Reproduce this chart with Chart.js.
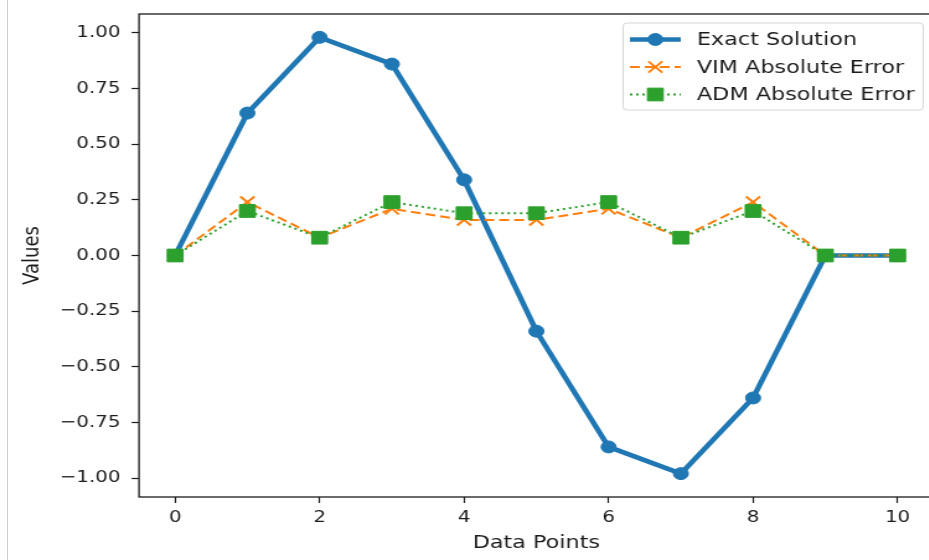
<!DOCTYPE html>
<html>
<head>
<meta charset="utf-8">
<script src="https://cdn.jsdelivr.net/npm/chart.js@4.4.0/dist/chart.umd.min.js"></script>
<style>
  html, body { margin: 0; padding: 0; background: #fff; overflow: hidden; }
  #frame { position: relative; width: 929px; height: 560px; overflow: hidden; }
  /* the picture is a matplotlib figure stretched sideways, so stretch the canvas the same way */
  #wrap { position: absolute; left: 0; top: 0; width: 763px; height: 560px; transform: scaleX(1.24); transform-origin: 0 0; }
  #edge { position: absolute; left: 7px; top: 0; width: 1px; height: 560px; background: #cfcfcf; }
</style>
</head>
<body>
<div id="frame">
  <div id="wrap"><canvas id="myChart"></canvas></div>
  <div id="edge"></div>
</div>
<script>
// Datos
const points = [0, 1, 2, 3, 4, 5, 6, 7, 8, 9, 10];
const exactSolution = [0, 0.64, 0.98, 0.86, 0.34, -0.34, -0.86, -0.98, -0.64, 0, 0];
const vimError = [0, 0.24, 0.08, 0.21, 0.16, 0.16, 0.21, 0.08, 0.24, 0, 0];
const admError = [0, 0.2, 0.08, 0.24, 0.19, 0.19, 0.24, 0.08, 0.2, 0, 0];

const xTicks = [0, 2, 4, 6, 8, 10];
const yTicks = [-1, -0.75, -0.5, -0.25, 0, 0.25, 0.5, 0.75, 1];

const FONT = "'DejaVu Sans', sans-serif";
const BLUE = "#1f77b4";
const ORANGE = "#ff7f0e";
const GREEN = "#2ca02c";
const INK = "#1c1c1c";

const toXY = (vals) => points.map((p, i) => ({ x: p, y: vals[i] }));

// Estilos de cada serie (también los usa la leyenda)
const series = [
  { label: "Exact Solution", color: BLUE, width: 4.5, dash: [], pointStyle: "circle", radius: 6, pointBorder: 1 },
  { label: "VIM Absolute Error", color: ORANGE, width: 2, dash: [8, 4], pointStyle: "crossRot", radius: 8, pointBorder: 2 },
  { label: "ADM Absolute Error", color: GREEN, width: 2, dash: [2, 3], pointStyle: "rect", radius: 9, pointBorder: 1 },
];
const seriesData = [exactSolution, vimError, admError];

// Marco completo de los ejes (como los spines de matplotlib)
const spinesPlugin = {
  id: "spines",
  afterDatasetsDraw(chart) {
    const { ctx, chartArea: a } = chart;
    ctx.save();
    ctx.strokeStyle = INK;
    ctx.lineWidth = 1.3;
    ctx.strokeRect(a.left, a.top, a.right - a.left, a.bottom - a.top);
    ctx.restore();
  },
};

// Leyenda dentro del gráfico, arriba a la derecha
const legendPlugin = {
  id: "insideLegend",
  afterDraw(chart) {
    const ctx = chart.ctx;
    const box = { x: 502.5, y: 23, w: 242, h: 87 };
    ctx.save();
    ctx.beginPath();
    ctx.roundRect(box.x, box.y, box.w, box.h, 3);
    ctx.fillStyle = "rgba(255,255,255,0.85)";
    ctx.fill();
    ctx.strokeStyle = "#d6d6d6";
    ctx.lineWidth = 1;
    ctx.stroke();

    series.forEach((s, i) => {
      const y = 39.5 + i * 27.5;
      ctx.beginPath();
      ctx.setLineDash(s.dash);
      ctx.strokeStyle = s.color;
      ctx.lineWidth = s.width;
      ctx.moveTo(508, y);
      ctx.lineTo(549, y);
      ctx.stroke();
      ctx.setLineDash([]);
      ctx.fillStyle = s.color;
      ctx.strokeStyle = s.color;
      ctx.lineWidth = s.pointBorder;
      Chart.helpers.drawPoint(ctx, { pointStyle: s.pointStyle, radius: s.radius, rotation: 0, borderWidth: s.pointBorder }, 528.5, y);

      ctx.fillStyle = INK;
      ctx.font = "18px " + FONT;
      ctx.textAlign = "left";
      ctx.textBaseline = "middle";
      ctx.fillText(s.label, 562, y + 1);
    });
    ctx.restore();
  },
};

const ctx = document.getElementById("myChart").getContext("2d");

const config = {
  type: "line",
  data: {
    datasets: series.map((s, i) => ({
      label: s.label,
      data: toXY(seriesData[i]),
      borderColor: s.color,
      backgroundColor: s.color,
      borderWidth: s.width,
      borderDash: s.dash,
      pointStyle: s.pointStyle,
      pointRadius: s.radius,
      pointHoverRadius: s.radius,
      pointBorderWidth: s.pointBorder,
      pointBackgroundColor: s.color,
      pointBorderColor: s.color,
      tension: 0,
      fill: false,
      order: 3 - i, // la primera serie queda debajo, como en matplotlib
    })),
  },
  options: {
    responsive: true,
    maintainAspectRatio: false,
    animation: false,
    layout: { padding: { left: 0, top: 14, right: 4.8, bottom: 0 } },
    plugins: {
      legend: { display: false },
      tooltip: { enabled: false },
    },
    scales: {
      x: {
        type: "linear",
        min: -0.5,
        max: 10.5,
        afterBuildTicks: (scale) => {
          scale.ticks = xTicks.map((v) => ({ value: v }));
        },
        afterFit: (scale) => {
          scale.height = 63;
          scale.paddingLeft = 0;
          scale.paddingRight = 0;
        },
        border: { display: false },
        grid: { drawOnChartArea: false, drawTicks: true, tickLength: 6, color: INK, tickWidth: 1.2 },
        ticks: {
          padding: 5,
          color: INK,
          font: { family: FONT, size: 16 },
          maxRotation: 0,
          callback: (v) => String(v),
        },
        title: {
          display: true,
          text: "Data Points",
          color: INK,
          font: { family: FONT, size: 18 },
          padding: { top: 0, bottom: 6 },
        },
      },
      y: {
        type: "linear",
        min: -1.085,
        max: 1.085,
        afterBuildTicks: (scale) => {
          scale.ticks = yTicks.map((v) => ({ value: v }));
        },
        afterFit: (scale) => {
          scale.width = 112.1;
          scale.paddingTop = 0;
          scale.paddingBottom = 0;
        },
        border: { display: false },
        grid: { drawOnChartArea: false, drawTicks: true, tickLength: 6, color: INK, tickWidth: 1.2 },
        ticks: {
          padding: 9,
          color: INK,
          font: { family: FONT, size: 16 },
          callback: (v) => (v < 0 ? "\u2212" + Math.abs(v).toFixed(2) : v.toFixed(2)),
        },
        title: {
          display: true,
          text: "Values",
          color: INK,
          font: { family: FONT, size: 18 },
          padding: { top: 16, bottom: 0 },
        },
      },
    },
  },
  plugins: [spinesPlugin, legendPlugin],
};

const myChart = new Chart(ctx, config);
</script>
</body>
</html>
